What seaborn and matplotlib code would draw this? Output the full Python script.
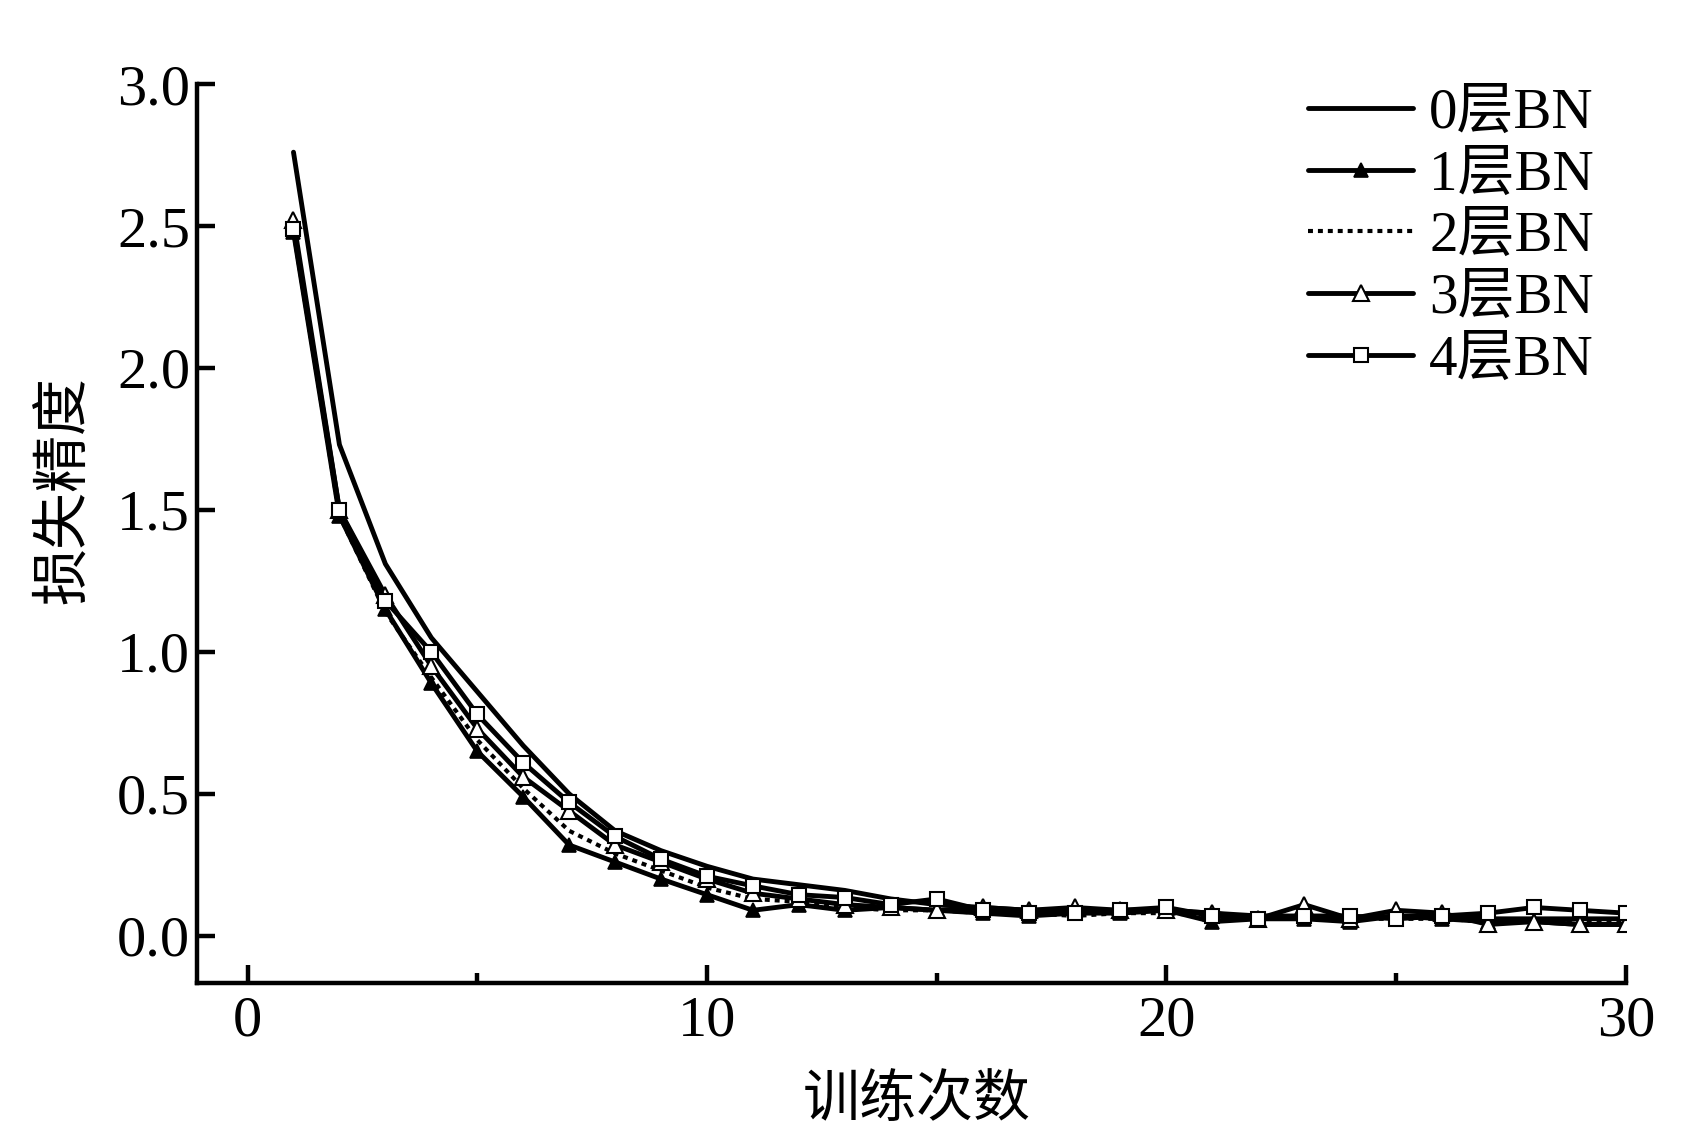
import matplotlib
matplotlib.use("Agg")
import matplotlib.pyplot as plt
from matplotlib.ticker import MultipleLocator
import seaborn as sns

# loss per training epoch
epochs = list(range(1, 31))
loss_bn0 = [2.76, 1.73, 1.31, 1.05, 0.86, 0.67, 0.50, 0.37, 0.30, 0.245,
            0.20, 0.18, 0.16, 0.13, 0.11, 0.10, 0.09, 0.09, 0.09, 0.09,
            0.08, 0.07, 0.07, 0.06, 0.07, 0.07, 0.06, 0.06, 0.06, 0.06]
loss_bn1 = [2.48, 1.48, 1.15, 0.89, 0.65, 0.49, 0.32, 0.26, 0.20, 0.145,
            0.09, 0.11, 0.09, 0.10, 0.09, 0.08, 0.07, 0.08, 0.08, 0.09,
            0.05, 0.06, 0.06, 0.05, 0.07, 0.06, 0.05, 0.05, 0.04, 0.04]
loss_bn2 = [2.49, 1.48, 1.14, 0.91, 0.69, 0.52, 0.37, 0.29, 0.23, 0.17,
            0.13, 0.12, 0.10, 0.09, 0.09, 0.08, 0.08, 0.07, 0.08, 0.08,
            0.07, 0.06, 0.06, 0.06, 0.06, 0.06, 0.05, 0.06, 0.05, 0.05]
loss_bn3 = [2.52, 1.50, 1.20, 0.95, 0.73, 0.56, 0.44, 0.32, 0.26, 0.20,
            0.15, 0.13, 0.11, 0.10, 0.09, 0.10, 0.09, 0.10, 0.09, 0.09,
            0.08, 0.06, 0.11, 0.06, 0.09, 0.08, 0.04, 0.05, 0.04, 0.04]
loss_bn4 = [2.49, 1.50, 1.18, 1.00, 0.78, 0.61, 0.47, 0.35, 0.27, 0.21,
            0.176, 0.145, 0.135, 0.11, 0.13, 0.09, 0.08, 0.08, 0.09, 0.10,
            0.07, 0.06, 0.07, 0.07, 0.06, 0.07, 0.08, 0.10, 0.09, 0.08]
labels = ["0层BN", "1层BN", "2层BN", "3层BN", "4层BN"]

sns.set_style("ticks")
plt.rcParams["font.family"] = ["Liberation Serif", "Noto Sans CJK SC"]
plt.rcParams["font.size"] = 42
for key in ["text.color", "axes.labelcolor", "xtick.color", "ytick.color",
            "axes.edgecolor"]:
    plt.rcParams[key] = "black"

fig = plt.figure(figsize=(16.91, 11.36), dpi=100)
ax = fig.add_axes([0.1165, 0.1347, 0.845, 0.7913])

lw = 3.5
sns.lineplot(x=epochs, y=loss_bn0, ax=ax, color="black", linewidth=lw,
             label=labels[0])
sns.lineplot(x=epochs, y=loss_bn1, ax=ax, color="black", linewidth=lw,
             marker="^", markersize=10, markerfacecolor="black",
             markeredgecolor="black", markeredgewidth=1.2, label=labels[1])
sns.lineplot(x=epochs, y=loss_bn2, ax=ax, color="black", linewidth=lw * 0.85,
             linestyle=(0, (1.2, 1.2)), label=labels[2])
sns.lineplot(x=epochs, y=loss_bn3, ax=ax, color="black", linewidth=lw,
             marker="^", markersize=11, markerfacecolor="white",
             markeredgecolor="black", markeredgewidth=1.5, label=labels[3])
sns.lineplot(x=epochs, y=loss_bn4, ax=ax, color="black", linewidth=lw,
             marker="s", markersize=10, markerfacecolor="white",
             markeredgecolor="black", markeredgewidth=1.5, label=labels[4])

ax.set_xlim(-1.1, 30)
ax.set_ylim(-0.166, 3.0)
ax.xaxis.set_major_locator(MultipleLocator(10))
ax.xaxis.set_minor_locator(MultipleLocator(5))
ax.yaxis.set_major_locator(MultipleLocator(0.5))
ax.yaxis.set_major_formatter(plt.FormatStrFormatter("%.1f"))

sns.despine(ax=ax)
for side in ["left", "bottom"]:
    ax.spines[side].set_linewidth(3.2)
ax.tick_params(which="major", direction="in", length=13, width=3.2,
               labelsize=42, pad=5)
ax.tick_params(which="minor", direction="in", length=7, width=3.2)
ax.tick_params(axis="x", pad=9)

ax.set_xlabel("训练次数", fontsize=41)
ax.set_ylabel("损失精度", fontsize=41)
ax.xaxis.set_label_coords(0.504, -0.103)
ax.yaxis.set_label_coords(-0.074, 0.548)

ax.legend(loc="upper left", bbox_to_anchor=(1308 / 1691, 1 - 88 / 1136),
          bbox_transform=fig.transFigure, frameon=False, fontsize=41,
          handlelength=1.85, handletextpad=0.28, labelspacing=0.17,
          borderpad=0, borderaxespad=0, numpoints=1)

fig.savefig("out.png", dpi=100)
